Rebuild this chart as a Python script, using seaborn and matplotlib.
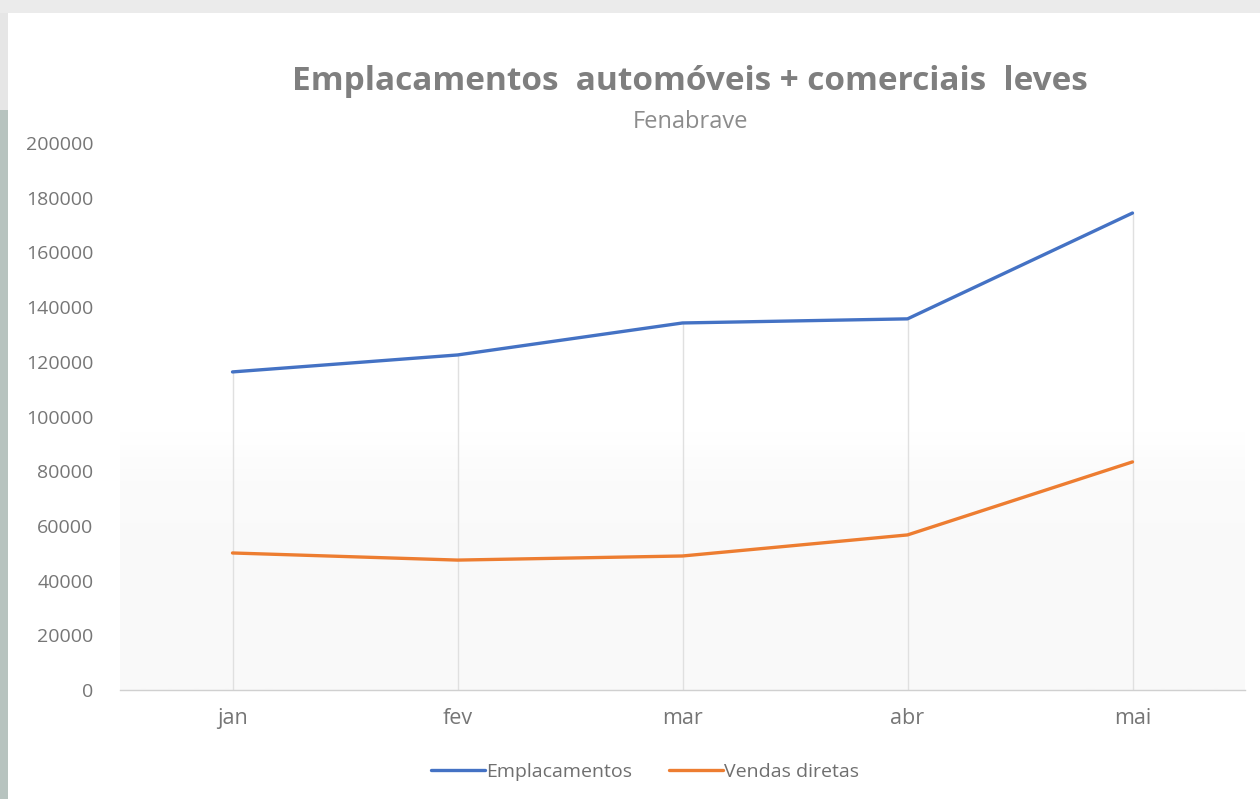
import numpy as np
import pandas as pd
import matplotlib
matplotlib.use("Agg")
import matplotlib.pyplot as plt
import seaborn as sns
from matplotlib.patches import Rectangle

months = ["jan", "fev", "mar", "abr", "mai"]
emplacamentos = [116300, 122500, 134200, 135700, 174400]
vendas_diretas = [50100, 47500, 49000, 56700, 83400]
series_names = ["Emplacamentos", "Vendas diretas"]
yticks = [0, 20000, 40000, 60000, 80000, 100000, 120000, 140000, 160000, 180000, 200000]

df = pd.DataFrame({
    "mes": months * 2,
    "valor": emplacamentos + vendas_diretas,
    "serie": [series_names[0]] * len(months) + [series_names[1]] * len(months),
})
df["x"] = list(range(len(months))) * 2

sns.set_theme(style="white")
plt.rcParams["font.family"] = ["Open Sans", "DejaVu Sans"]

fig = plt.figure(figsize=(12.6, 7.99), dpi=100)
fig.patch.set_facecolor("white")

# frame decorations (top band, left strip)
fig.patches.append(Rectangle((0, 1 - 13 / 799), 1, 13 / 799, transform=fig.transFigure,
                             facecolor="#ebebeb", edgecolor="none", zorder=0))
fig.patches.append(Rectangle((0, 0), 8 / 1260, 1 - 110 / 799, transform=fig.transFigure,
                             facecolor="#b7c3bf", edgecolor="none", zorder=0))
fig.patches.append(Rectangle((0, 1 - 110 / 799), 8 / 1260, 97 / 799, transform=fig.transFigure,
                             facecolor="#e6e6e6", edgecolor="none", zorder=0))

ax = fig.add_axes([120 / 1260, 109 / 799, 1125 / 1260, 547 / 799])
ax.set_facecolor("none")

# subtle gradient in lower part of plot area
grad = np.concatenate([np.linspace(1, 0.8, 200), np.linspace(0.8, 0, 60)]).reshape(-1, 1)
ax.imshow(grad, extent=[0, 1, 0, 0.47], transform=ax.transAxes, aspect="auto", origin="lower",
          cmap=matplotlib.colors.LinearSegmentedColormap.from_list("g", ["#ffffff", "#f9f9f9"]),
          zorder=0, vmin=0, vmax=1)

# drop lines from the top series down to the axis
ax.vlines(range(len(months)), 0, emplacamentos, color="#e0e0e0", linewidth=1.0, zorder=1)

sns.lineplot(data=df, x="x", y="valor", hue="serie", palette=["#4472C4", "#ED7D31"],
             linewidth=2.4, ax=ax, legend=True, zorder=3)

ax.set_xlim(-0.5, len(months) - 0.5)
ax.set_ylim(0, 200000)
ax.set_yticks(yticks)
ax.set_yticklabels([str(v) for v in yticks])
ax.set_xticks(range(len(months)))
ax.set_xticklabels(months)
ax.set_xlabel("")
ax.set_ylabel("")

for s in ["top", "right", "left"]:
    ax.spines[s].set_visible(False)
ax.spines["bottom"].set_color("#d0d0d0")
ax.spines["bottom"].set_linewidth(1.0)
ax.tick_params(axis="both", length=0, colors="#767676")
ax.tick_params(axis="y", pad=19, labelsize=14)
ax.tick_params(axis="x", pad=13, labelsize=15.5)

fig.text(690 / 1260, 1 - 82 / 799, "Emplacamentos  automóveis + comerciais  leves",
         ha="center", va="center", fontsize=24, fontweight="bold", color="#7f7f7f")
fig.text(690 / 1260, 1 - 122 / 799, "Fenabrave", ha="center", va="center",
         fontsize=17, color="#8c8c8c")

leg = ax.legend(loc="center", bbox_to_anchor=(645 / 1260, 1 - 772 / 799),
                bbox_transform=fig.transFigure, ncol=2, frameon=False, fontsize=14,
                handlelength=2.8, handletextpad=0.05, columnspacing=1.9)
for t in leg.get_texts():
    t.set_color("#6f6f6f")

fig.savefig("out.png", dpi=100)
